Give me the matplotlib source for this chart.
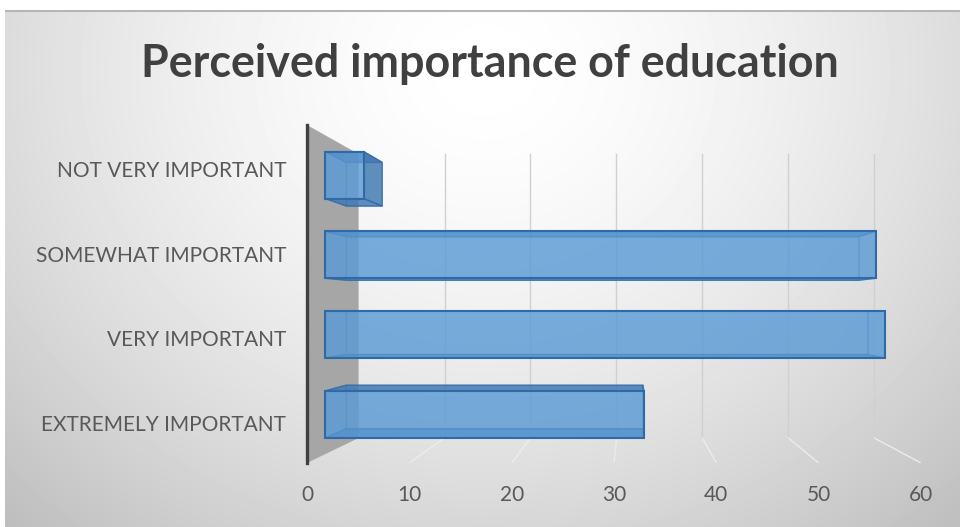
import numpy as np
import matplotlib
matplotlib.use("Agg")
import matplotlib.pyplot as plt
import matplotlib.transforms as mtransforms
from matplotlib.patches import Polygon

#  ############################# Data ########################################

categories = ["EXTREMELY IMPORTANT", "VERY IMPORTANT",
              "SOMEWHAT IMPORTANT", "NOT VERY IMPORTANT"]
values = [33, 58, 57, 4]
x_ticks = [0, 10, 20, 30, 40, 50, 60]
title = "Perceived importance of education"

#  ############################# Plot parameters ##############################

W, H = 960, 527
DPI = 100

BAR_BLUE = "#5b9bd5"
BAR_DARK = "#3f74ad"
BAR_EDGE = "#2e6aa8"
TEXT_GREY = "#595959"
WALL_GREY = "#a6a6a6"

# fake 3D: depth z runs from 0 (front edge) to 1 (back wall)
SHRINK = 0.16      # how much smaller the back wall is
BACK_X = 5.04      # back wall origin, in front-plane value units
BACK_U = 0.074     # back wall floor, in front-plane axis fraction
Z_FRONT, Z_BACK = 0.35, 0.76
BAR_H = 0.147


def proj(v, u, z):
    k = 1 - SHRINK * z
    return v * k + BACK_X * z, u * k + BACK_U * z


fig = plt.figure(figsize=(W / DPI, H / DPI), dpi=DPI)

# background with soft radial shading
bg = fig.add_axes([5 / W, 0, (W - 5) / W, (H - 10) / H])
yy, xx = np.mgrid[0:H - 10, 0:W - 5]
r = np.sqrt(((xx - 480) / 640.0) ** 2 + ((yy - 60) / 560.0) ** 2)
shade = np.clip(1 - 0.22 * r ** 1.6, 0, 1)
bg.imshow(shade, cmap="gray", vmin=0, vmax=1, aspect="auto",
          interpolation="bilinear")
bg.axhline(0, color="#b5b5b5", lw=1.5)
bg.set_axis_off()

ax = fig.add_axes([307 / W, (H - 463) / H, (921 - 307) / W, (463 - 125) / H])
ax.set_facecolor("none")
ax.set_xlim(0, 60)
ax.set_ylim(0, 1)

# side wall
wall = [proj(0, 0, 0), proj(0, 1, 0), proj(0, 1, 1), proj(0, 0, 1)]
ax.add_patch(Polygon(wall, closed=True, fc=WALL_GREY, ec="none", zorder=1))

# back wall gridlines and their floor lines
for t in x_ticks[1:]:
    b0 = proj(t, 0, 1)
    b1 = proj(t, 1, 1)
    f0 = proj(t, 0, 0)
    ax.plot([b0[0], b1[0]], [b0[1], b1[1]], color="#d0d0d0", lw=1, zorder=1)
    ax.plot([f0[0], b0[0]], [f0[1], b0[1]], color="#ececec", lw=1, zorder=1)

# bars as see-through boxes
for i, val in enumerate(values):
    uc = (i + 0.5) / len(values)
    lo, hi = uc - BAR_H / 2, uc + BAR_H / 2

    back = [proj(0, lo, Z_BACK), proj(0, hi, Z_BACK),
            proj(val, hi, Z_BACK), proj(val, lo, Z_BACK)]
    front = [proj(0, lo, Z_FRONT), proj(0, hi, Z_FRONT),
             proj(val, hi, Z_FRONT), proj(val, lo, Z_FRONT)]
    top = [proj(0, hi, Z_FRONT), proj(0, hi, Z_BACK),
           proj(val, hi, Z_BACK), proj(val, hi, Z_FRONT)]
    bottom = [proj(0, lo, Z_FRONT), proj(0, lo, Z_BACK),
              proj(val, lo, Z_BACK), proj(val, lo, Z_FRONT)]
    left = [proj(0, lo, Z_FRONT), proj(0, hi, Z_FRONT),
            proj(0, hi, Z_BACK), proj(0, lo, Z_BACK)]
    right = [proj(val, lo, Z_FRONT), proj(val, hi, Z_FRONT),
             proj(val, hi, Z_BACK), proj(val, lo, Z_BACK)]

    ax.add_patch(Polygon(back, closed=True, fc=BAR_BLUE, alpha=0.35,
                         ec=BAR_EDGE, lw=0.8, zorder=2))
    ax.add_patch(Polygon(left, closed=True, fc=BAR_BLUE, alpha=0.35,
                         ec=BAR_EDGE, lw=0.8, zorder=2))
    ax.add_patch(Polygon(bottom, closed=True, fc=BAR_DARK, alpha=0.75,
                         ec=BAR_EDGE, lw=1.0, zorder=2))
    ax.add_patch(Polygon(top, closed=True, fc=BAR_DARK, alpha=0.75,
                         ec=BAR_EDGE, lw=1.0, zorder=2))
    # end face sticks out only when the back edge lies right of the front
    outside = proj(val, lo, Z_BACK)[0] > proj(val, lo, Z_FRONT)[0]
    ax.add_patch(Polygon(right, closed=True,
                         fc=BAR_DARK if outside else BAR_BLUE,
                         alpha=0.75 if outside else 0.35,
                         ec=BAR_EDGE, lw=1.0, zorder=2))
    ax.add_patch(Polygon(front, closed=True, fc=BAR_BLUE, alpha=0.72,
                         ec="none", zorder=3))
    ax.add_patch(Polygon(front, closed=True, fc="none", ec=BAR_EDGE,
                         lw=1.5, zorder=4))

# axes and labels
for s in ("top", "right", "bottom"):
    ax.spines[s].set_visible(False)
ax.spines["left"].set_color("#404040")
ax.spines["left"].set_linewidth(2.4)
ax.spines["left"].set_zorder(5)

ax.set_xticks(x_ticks)
ax.set_xticklabels([str(t) for t in x_ticks])
ax.set_yticks([(i + 0.5) / len(categories) for i in range(len(categories))])
ax.set_yticklabels(categories)
ax.tick_params(axis="both", length=0, labelsize=15, labelcolor=TEXT_GREY)
ax.tick_params(axis="x", pad=16)
ax.tick_params(axis="y", pad=15)
shift = mtransforms.ScaledTranslation(0, -2 / DPI, fig.dpi_scale_trans)
for lab in ax.get_yticklabels():
    lab.set_transform(lab.get_transform() + shift)
for lab in ax.get_xticklabels() + ax.get_yticklabels():
    lab.set_family("Lato")

fig.text(490 / W, 1 - 77 / H, title, ha="center", va="baseline",
         fontsize=32.3, fontweight="bold", family="Lato", color="#404040")

plt.savefig("out.png", dpi=DPI)
